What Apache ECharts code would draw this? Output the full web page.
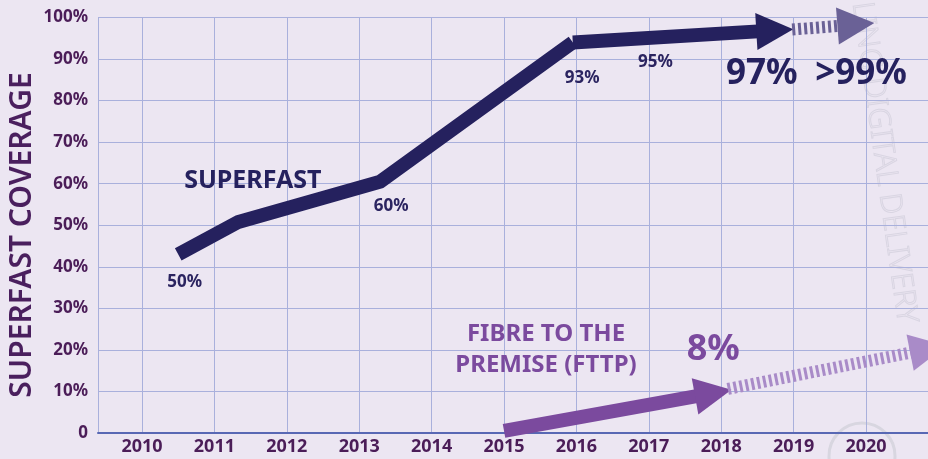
<!DOCTYPE html>
<html>
<head>
<meta charset="utf-8">
<script src="https://cdn.jsdelivr.net/npm/echarts@6/dist/echarts.min.js"></script>
<style>
  html, body { margin: 0; padding: 0; background: #ece6f2; }
  #chart { width: 928px; height: 459px; }
</style>
</head>
<body>
<div id="chart"></div>
<script>
// years on the x axis
const years = [2010, 2011, 2012, 2013, 2014, 2015, 2016, 2017, 2018, 2019, 2020]

// superfast coverage, [year, percent]
const superfastPath = [[2010.5, 43], [2011.33, 50.8], [2013.29, 60.5], [2015.95, 94]]
const superfastArrow = [[2015.95, 94], [2018.74, 96.9]]
const superfastForecast = [[2018.98, 97.1], [2019.86, 98.3]]

// fibre to the premise, [year, percent]
const fttpArrow = [[2015.0, 0.5], [2017.89, 9.6]]
const fttpForecast = [[2018.09, 10.6], [2020.86, 20.2]]

// annotations: [text, year, percent]
const superfastNotes = [['50%', 2010.59, 36.4], ['60%', 2013.44, 54.7], ['93%', 2016.08, 85.3], ['95%', 2017.09, 89.2]]
const bigNotes = [['97%', 2018.56, 86.3], ['>99%', 2019.93, 86.3]]
const fttpBig = [['8%', 2017.89, 20]]
const nameNotes = [['SUPERFAST', 2011.53, 60.8]]
const fttpName = [['FIBRE TO THE\nPREMISE (FTTP)', 2015.58, 20]]

const navy = '#25215e'
const purple = '#7b4a9e'
const tickColor = '#4b1d58'
const gridColor = '#a9b0dc'
const font = 'Noto Sans'

function noteSeries (notes, color, size, extra) {
    return {
        type: 'scatter',
        symbolSize: 0,
        silent: true,
        z: 10,
        itemStyle: { opacity: 1 },
        data: notes.map(n => ({ value: [n[1], n[2]], name: n[0] })),
        label: Object.assign({
            show: true,
            position: 'inside',
            formatter: p => p.name,
            color: color,
            opacity: 1,
            fontFamily: font,
            fontWeight: 'bold',
            fontSize: size
        }, extra || {})
    }
}

function arrowSeries (coords, color, width, dashed) {
    return {
        type: 'lines',
        coordinateSystem: 'cartesian2d',
        clip: false,
        silent: true,
        z: 4,
        symbol: ['none', 'triangle'],
        symbolSize: 37,
        data: [{ coords: coords }],
        lineStyle: {
            color: color,
            width: width,
            opacity: 1,
            curveness: 0,
            type: dashed ? [3, 3] : 'solid',
            cap: 'butt'
        }
    }
}

const chart = echarts.init(document.getElementById('chart'))

const option = {
    animation: false,
    backgroundColor: '#ece6f2',
    grid: { left: 98, right: 0, top: 17.5, bottom: 26, containLabel: false, outerBoundsMode: 'none' },
    xAxis: {
        type: 'value',
        min: 2009.392,
        max: 2020.856,
        axisLine: { show: true, lineStyle: { color: '#5868b4', width: 2 } },
        axisTick: { show: false, customValues: years },
        axisLabel: {
            customValues: years,
            formatter: v => String(Math.round(v)),
            color: tickColor,
            fontFamily: font,
            fontWeight: 'bold',
            fontSize: 18,
            margin: 5
        },
        splitLine: { show: true, lineStyle: { color: gridColor, width: 1 } }
    },
    yAxis: {
        type: 'value',
        min: 0,
        max: 100,
        interval: 10,
        axisLine: { show: true, lineStyle: { color: gridColor, width: 1 } },
        axisTick: { show: false },
        axisLabel: {
            formatter: v => (v === 0 ? '0' : v + '%'),
            color: tickColor,
            fontFamily: font,
            fontWeight: 'bold',
            fontSize: 17,
            margin: 10
        },
        splitLine: { show: true, lineStyle: { color: gridColor, width: 1 } }
    },
    graphic: [
        {
            type: 'text',
            x: 22,
            y: 235,
            rotation: Math.PI / 2,
            silent: true,
            style: {
                text: 'SUPERFAST COVERAGE',
                fill: '#4a1f5e',
                fontFamily: font,
                fontWeight: 600,
                fontSize: 30,
                align: 'center',
                verticalAlign: 'middle'
            }
        },
        {
            type: 'text',
            x: 876,
            y: 0,
            rotation: -1.43,
            silent: true,
            z: 0,
            style: {
                text: 'LING DIGITAL DELIVERY',
                fill: 'rgba(0,0,0,0)',
                stroke: '#d9d5e2',
                lineWidth: 1,
                fontFamily: font,
                fontWeight: 300,
                fontSize: 30
            }
        },
        {
            type: 'circle',
            shape: { cx: 862, cy: 456, r: 33 },
            silent: true,
            style: { fill: 'none', stroke: '#d8d6e0', lineWidth: 3 }
        }
    ],
    series: [
        {
            type: 'line',
            data: superfastPath,
            symbol: 'none',
            silent: true,
            z: 5,
            lineStyle: { color: navy, width: 14, join: 'miter', cap: 'butt' }
        },
        arrowSeries(superfastArrow, navy, 14, false),
        arrowSeries(superfastForecast, '#6a6196', 12, true),
        arrowSeries(fttpArrow, purple, 14, false),
        arrowSeries(fttpForecast, '#a98bc8', 12, true),
        noteSeries(superfastNotes, '#2b2460', 17),
        noteSeries(bigNotes, navy, 35),
        noteSeries(nameNotes, navy, 25),
        noteSeries(fttpBig, purple, 36),
        noteSeries(fttpName, purple, 24, { lineHeight: 31, align: 'center' })
    ]
}

option && chart.setOption(option)
</script>
</body>
</html>
